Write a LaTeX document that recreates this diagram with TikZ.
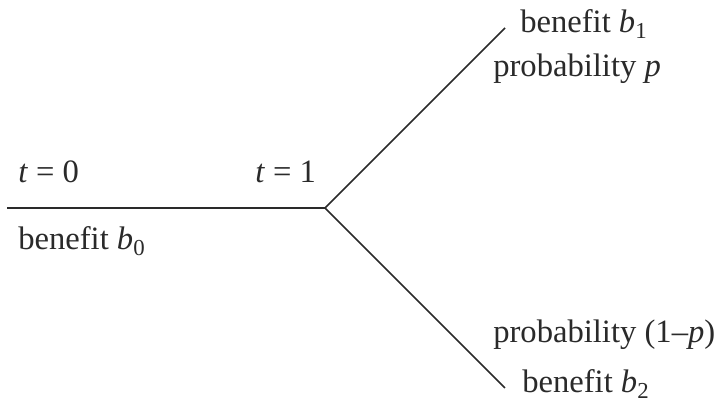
\documentclass[tikz,border=0pt]{standalone}
\usepackage{fontspec}
\setmainfont{Liberation Serif}
\definecolor{branchline}{HTML}{2A2A2A}
\definecolor{labeltext}{HTML}{2A2A2A}
\tikzset{
  branch/.style={draw=branchline, line width=1.2pt},
  label/.style={font=\fontsize{23.2}{27}\selectfont, text=labeltext,
                inner sep=0pt, anchor=base west},
}

\begin{document}
\begin{tikzpicture}
    \useasboundingbox (0,0) rectangle (18,10.05);
    \coordinate (start) at (0.175, 4.85);
    \coordinate (fork) at (8.125, 4.85);
    \coordinate (up) at (12.625, 9.35);
    \coordinate (down) at (12.625, 0.35);
    \draw[branch] (start) -- (fork);
    \draw[branch] (fork) -- (up);
    \draw[branch] (fork) -- (down);
    \node[label] (t0) at (0.45, 5.475) {\textit{t} = 0};
    \node[label] (t1) at (6.375, 5.475) {\textit{t} = 1};
    \node[label] (b0) at (0.45, 3.8) {benefit \textit{b}\textsubscript{0}};
    \node[label] (b1) at (13.0, 9.225) {benefit \textit{b}\textsubscript{1}};
    \node[label] (p1) at (12.325, 8.125) {probability \textit{p}};
    \node[label] (p2) at (12.325, 1.475) {probability (1--\textit{p})};
    \node[label] (b2) at (13.05, 0.225) {benefit \textit{b}\textsubscript{2}};
  \end{tikzpicture}
\end{document}
